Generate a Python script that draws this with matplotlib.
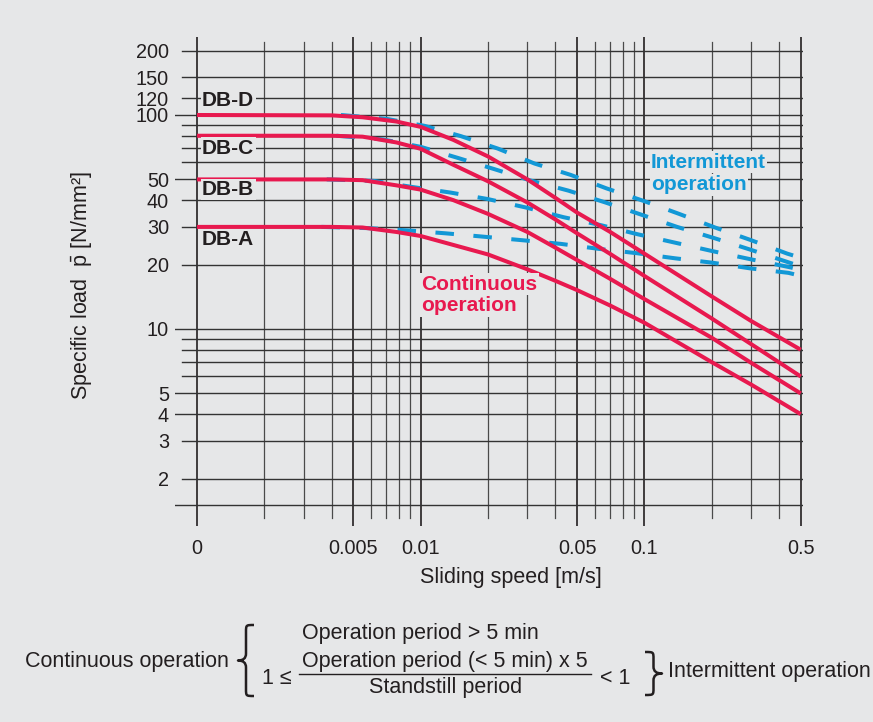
import numpy as np
import matplotlib
matplotlib.use('Agg')
import matplotlib.pyplot as plt
from matplotlib.lines import Line2D
from matplotlib.patches import PathPatch
from matplotlib.path import Path
from matplotlib.ticker import NullLocator

W, H = 873, 722
BG = '#e6e7e8'
INK = '#231f20'
RED = '#e8194f'
BLUE = '#1298d6'

# continuous operation, sliding speed in m/s, load in N/mm2
speed = [0.001, 0.004, 0.0055, 0.0078, 0.01, 0.014, 0.02, 0.03, 0.04, 0.05, 0.07, 0.1, 0.2, 0.3, 0.5]
cont_d = [100, 99.6, 97.6, 93.2, 88, 76.5, 64, 50, 41, 35, 28.5, 22.5, 14.2, 10.9, 8]
cont_c = [80, 80, 79.2, 74.4, 69.5, 58.5, 49, 39, 32.5, 28, 22.5, 17.7, 11.2, 8.5, 6]
cont_b = [50, 50, 49.6, 46.9, 44.8, 40, 34.5, 28.4, 24, 21, 17.2, 13.8, 9.1, 6.95, 5]
cont_a = [30, 30, 29.8, 28.4, 27.2, 24.7, 22.3, 19, 16.8, 15.2, 12.9, 10.7, 7.0, 5.5, 4]

# intermittent operation
int_d_speed = [0.0044, 0.00705, 0.0104, 0.0151, 0.0221, 0.0323, 0.0468, 0.0677, 0.099, 0.143, 0.207, 0.297, 0.435, 0.48]
int_d = [100, 95.9, 89, 79.7, 69.7, 59.3, 52.5, 45.4, 39.7, 34.5, 29.8, 26.1, 22.5, 21.8]
int_c_speed = [0.0042, 0.00677, 0.01, 0.0146, 0.0214, 0.031, 0.0458, 0.067, 0.097, 0.14, 0.205, 0.297, 0.44, 0.48]
int_c = [80, 76.9, 71, 63.1, 55.8, 49.4, 44.3, 39, 34.2, 30, 26.6, 23.5, 20.5, 19.9]
int_b_speed = [0.0038, 0.00617, 0.00917, 0.0136, 0.0199, 0.0294, 0.0435, 0.0636, 0.0935, 0.1375, 0.202, 0.297, 0.44, 0.48]
int_b = [50, 49.2, 46.1, 43.4, 40.5, 37.0, 33.3, 30.6, 27.7, 25.3, 23.1, 21.2, 19.5, 19.1]
int_a_speed = [0.0036, 0.00586, 0.0087, 0.0129, 0.0191, 0.0284, 0.0422, 0.0623, 0.0926, 0.137, 0.202, 0.297, 0.44, 0.48]
int_a = [30, 29.6, 28.9, 28.0, 27.0, 26.0, 25.0, 23.7, 22.6, 21.4, 20.4, 19.2, 18.3, 17.9]

grades = ['DB-D', 'DB-C', 'DB-B', 'DB-A']

x_major = [0.001, 0.005, 0.01, 0.05, 0.1, 0.5]
x_minor = [0.002, 0.003, 0.004, 0.006, 0.007, 0.008, 0.009,
           0.02, 0.03, 0.04, 0.06, 0.07, 0.08, 0.09, 0.2, 0.3, 0.4]
y_long = [100, 50, 10, 5, 4, 1.5]
y_short = [200, 150, 120, 90, 80, 70, 60, 40, 30, 20, 9, 8, 7, 6, 3, 2]
y_ticks = [200, 150, 120, 100, 50, 40, 30, 20, 10, 5, 4, 3, 2]
x_ticks = [0.001, 0.005, 0.01, 0.05, 0.1, 0.5]
x_labels = ['0', '0.005', '0.01', '0.05', '0.1', '0.5']


def fx(x):
    return x / W


def fy(y):
    return 1 - y / H


def draw_brace(fig, tip, end, top, bot):
    # curly brace drawn as a stroked path, tip is the pointed side
    d = 1 if end > tip else -1
    stem = (tip + end) / 2
    mid = (top + bot) / 2
    r = 7
    pts = [(end, top), (stem, top), (stem, top), (stem, top + r),
           (stem, mid - r),
           (stem, mid - 2), (stem - 3 * d, mid), (tip, mid),
           (stem - 3 * d, mid), (stem, mid + 2), (stem, mid + r),
           (stem, bot - r),
           (stem, bot), (stem, bot), (end, bot)]
    codes = [Path.MOVETO, Path.CURVE4, Path.CURVE4, Path.CURVE4,
             Path.LINETO,
             Path.CURVE4, Path.CURVE4, Path.CURVE4,
             Path.CURVE4, Path.CURVE4, Path.CURVE4,
             Path.LINETO,
             Path.CURVE4, Path.CURVE4, Path.CURVE4]
    path = Path([(fx(x), fy(y)) for x, y in pts], codes)
    fig.add_artist(PathPatch(path, transform=fig.transFigure, fc='none', ec=INK,
                             lw=1.8, capstyle='butt', joinstyle='round'))


def main():
    plt.rcParams['font.family'] = ['Liberation Sans', 'DejaVu Sans']
    plt.rcParams['mathtext.fontset'] = 'custom'
    plt.rcParams['mathtext.rm'] = 'Liberation Sans'
    plt.rcParams['mathtext.it'] = 'Liberation Sans:italic'

    fig = plt.figure(figsize=(W / 100, H / 100), dpi=100)
    fig.patch.set_facecolor(BG)

    left, right, top, bottom = 175, 803, 37, 526
    ax = fig.add_axes([fx(left), fy(bottom), (right - left) / W, (bottom - top) / H])
    ax.set_facecolor(BG)
    ax.set_xscale('log')
    ax.set_yscale('log')
    ax.set_xlim(10 ** (-3 + (left - 197) / 223.7), 10 ** (-3 + (right - 197) / 223.7))
    ax.set_ylim(10 ** (2 - (bottom - 115) / 214), 10 ** (2 - (top - 115) / 214))
    for s in ax.spines.values():
        s.set_visible(False)

    # grid
    for v in x_major:
        ax.axvline(v, 0, 1, color=INK, lw=1.2, zorder=1)
    for v in x_minor:
        ax.axvline(v, (bottom - 518) / (bottom - top), (bottom - 42) / (bottom - top),
                   color='#4a4a4a', lw=0.9, zorder=1)
    for v in y_long:
        ax.axhline(v, 0, 1, color='#333333', lw=1.0, zorder=1)
    for v in y_short:
        ax.axhline(v, (182 - left) / (right - left), 1, color='#333333', lw=1.0, zorder=1)

    on, off = 4.6, 4.85
    for xs, ys in [(int_d_speed, int_d), (int_c_speed, int_c),
                   (int_b_speed, int_b), (int_a_speed, int_a)]:
        ax.plot(xs, ys, color=BLUE, lw=2.9, dashes=(on, off), dash_capstyle='butt', zorder=3)
    for ys in [cont_d, cont_c, cont_b, cont_a]:
        ax.plot(speed, ys, color=RED, lw=2.9, solid_capstyle='butt', zorder=4)

    ax.xaxis.set_minor_locator(NullLocator())
    ax.yaxis.set_minor_locator(NullLocator())
    ax.set_xticks(x_ticks, x_labels)
    ax.set_yticks(y_ticks, [str(t) for t in y_ticks])
    ax.tick_params(axis='both', length=0, labelsize=14.3, colors=INK)
    ax.tick_params(axis='x', pad=9)
    ax.tick_params(axis='y', pad=4.3)

    box = dict(facecolor=BG, edgecolor='none', pad=1.0)
    lab = dict(ha='left', va='center', fontsize=15, fontweight='bold', bbox=box, zorder=5)
    for name, yc in zip(grades, [100, 148, 189.5, 239.5]):
        fig.text(fx(202), fy(yc), name, color=INK, **lab)
    fig.text(fx(421), fy(284), 'Continuous', color=RED, **lab)
    fig.text(fx(421), fy(306), 'operation', color=RED, **lab)
    fig.text(fx(651), fy(162), 'Intermittent', color=BLUE, **lab)
    fig.text(fx(651), fy(185), 'operation', color=BLUE, **lab)

    # axis titles
    fig.text(fx(511), fy(577), 'Sliding speed [m/s]', ha='center', va='center',
             fontsize=15.5, color=INK)
    fig.text(fx(82), fy(286), 'Specific load  $\\bar{\\mathrm{p}}$ [N/mm²]', ha='center',
             va='center', rotation=90, fontsize=15.5, color=INK)

    # definition below the chart
    fs = 15.5
    fig.text(fx(420), fy(634), 'Operation period > 5 min', ha='center', va='center', fontsize=fs, color=INK)
    fig.text(fx(229), fy(661), 'Continuous operation', ha='right', va='center', fontsize=fs, color=INK)
    draw_brace(fig, 238, 254, 625, 696)
    fig.text(fx(262), fy(678), '1 ≤', ha='left', va='center', fontsize=fs, color=INK)
    fig.text(fx(445), fy(662), 'Operation period (< 5 min) x 5', ha='center', va='center', fontsize=fs, color=INK)
    fig.add_artist(Line2D([fx(299), fx(591)], [fy(674), fy(674)], transform=fig.transFigure,
                          color=INK, lw=1.0))
    fig.text(fx(446), fy(687), 'Standstill period', ha='center', va='center', fontsize=fs, color=INK)
    fig.text(fx(600), fy(678), '< 1', ha='left', va='center', fontsize=fs, color=INK)
    draw_brace(fig, 662, 645, 652, 695)
    fig.text(fx(668), fy(672), 'Intermittent operation', ha='left', va='center', fontsize=fs, color=INK)

    fig.savefig('out.png', dpi=100, facecolor=BG)


if __name__ == '__main__':
    main()
